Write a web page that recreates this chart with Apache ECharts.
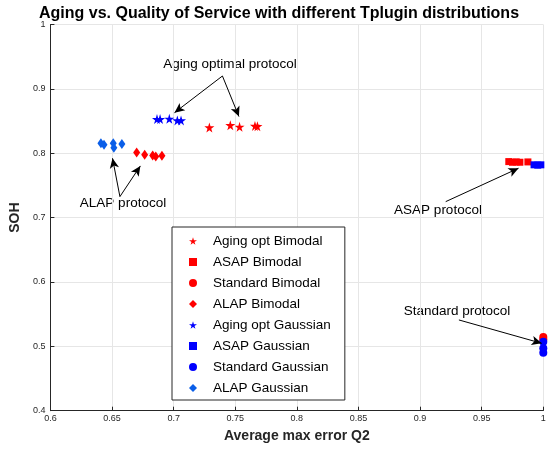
<!DOCTYPE html>
<html>
<head>
<meta charset="utf-8">
<script src="https://cdn.jsdelivr.net/npm/echarts@6/dist/echarts.min.js"></script>
<style>
  html, body { margin: 0; padding: 0; background: #fff; }
  #chart { width: 553px; height: 449px; }
</style>
</head>
<body>
<div id="chart"></div>
<script>
// [avg max error Q2, SOH]
const agingOptBimodal = [[0.729, 0.840], [0.746, 0.8435], [0.7535, 0.841], [0.766, 0.8425], [0.768, 0.842]];
const asapBimodal = [[0.972, 0.787], [0.975, 0.786], [0.978, 0.7865], [0.981, 0.786], [0.9875, 0.7865]];
const standardBimodal = [[1.0, 0.5145], [1.0, 0.511]];
const alapBimodal = [[0.670, 0.801], [0.6765, 0.7975], [0.683, 0.7965], [0.6855, 0.795], [0.6905, 0.796]];
const agingOptGaussian = [[0.6865, 0.853], [0.689, 0.853], [0.6965, 0.8535], [0.703, 0.851], [0.706, 0.851]];
const asapGaussian = [[0.9925, 0.782], [0.9955, 0.7815], [0.998, 0.782]];
const standardGaussian = [[1.0, 0.507], [1.0, 0.497], [1.0, 0.490]];
const alapGaussian = [[0.641, 0.8155], [0.6435, 0.813], [0.651, 0.8155], [0.6515, 0.8085], [0.658, 0.8145]];

// annotation arrows: [from, to] in data coords
const arrows = [
  [[0.7396, 0.920], [0.7007, 0.863]],
  [[0.7396, 0.920], [0.753, 0.857]],
  [[0.6564, 0.7326], [0.6504, 0.7922]],
  [[0.6564, 0.7326], [0.673, 0.7803]],
  [[0.9208, 0.7248], [0.9799, 0.7767]],
  [[0.9315, 0.541], [0.9987, 0.5047]]
];

const STAR = "path://M50,0 L61,35 L98,35 L68,57 L79,91 L50,70 L21,91 L32,57 L2,35 L39,35 Z";
const RED = "#ff0000";
const BLUE = "#0000ff";
const LBLUE = "#0a5ee8";

const chart = echarts.init(document.getElementById("chart"));

const mk = (name, data, symbol, size, color) => ({
  name: name,
  type: "scatter",
  data: data,
  symbol: symbol,
  symbolSize: size,
  clip: false,
  itemStyle: { color: color, opacity: 1 },
  z: 3
});

const legendNames = [
  ["Aging opt Bimodal", STAR],
  ["ASAP Bimodal", "rect"],
  ["Standard Bimodal", "circle"],
  ["ALAP Bimodal", "diamond"],
  ["Aging opt Gaussian", STAR],
  ["ASAP Gaussian", "rect"],
  ["Standard Gaussian", "circle"],
  ["ALAP Gaussian", "diamond"]
];

const option = {
  animation: false,
  backgroundColor: "#fff",
  title: {
    text: "Aging vs. Quality of Service with different Tplugin distributions",
    left: 34,
    top: 1,
    textStyle: { fontFamily: "Liberation Sans", fontSize: 16, fontWeight: "bold", color: "#000" }
  },
  grid: { left: 46.7, right: 9.7, top: 24.5, bottom: 38.3 },
  legend: {
    orient: "vertical",
    left: 172,
    top: 227,
    width: 175,
    padding: [7, 14, 5, 17],
    itemWidth: 8,
    itemHeight: 8,
    itemGap: 7,
    borderColor: "#262626",
    borderWidth: 1,
    backgroundColor: "#fff",
    selectedMode: false,
    data: legendNames.map(n => ({ name: n[0], icon: n[1] })),
    textStyle: { fontFamily: "Liberation Sans", fontSize: 13.5, color: "#000", lineHeight: 14, padding: [0, 0, 0, 11] }
  },
  xAxis: {
    type: "value",
    min: 0.6,
    max: 1,
    interval: 0.05,
    name: "Average max error Q2",
    nameLocation: "middle",
    nameGap: 18,
    nameTextStyle: { fontFamily: "Liberation Sans", fontSize: 14, fontWeight: "bold", color: "#262626" },
    axisLine: { show: true, onZero: false, lineStyle: { color: "#262626", width: 1 } },
    axisTick: { show: true, inside: true, length: 4, lineStyle: { color: "#262626" } },
    axisLabel: { fontFamily: "Liberation Sans", fontSize: 9, color: "#262626", margin: 3 },
    splitLine: { show: true, lineStyle: { color: "#e6e6e6", width: 1 } }
  },
  yAxis: {
    type: "value",
    min: 0.4,
    max: 1,
    interval: 0.1,
    name: "SOH",
    nameLocation: "middle",
    nameGap: 22,
    nameTextStyle: { fontFamily: "Liberation Sans", fontSize: 14, fontWeight: "bold", color: "#262626" },
    axisLine: { show: true, onZero: false, lineStyle: { color: "#262626", width: 1 } },
    axisTick: { show: true, inside: true, length: 4, lineStyle: { color: "#262626" } },
    axisLabel: { fontFamily: "Liberation Sans", fontSize: 9, color: "#262626", margin: 5 },
    splitLine: { show: true, lineStyle: { color: "#e6e6e6", width: 1 } }
  },
  graphic: [
    { type: "text", x: 230, y: 64, style: { text: "Aging optimal protocol", font: "13.5px 'Liberation Sans'", fill: "#000", textAlign: "center", textVerticalAlign: "middle" } },
    { type: "text", x: 123, y: 203, style: { text: "ALAP protocol", font: "13.5px 'Liberation Sans'", fill: "#000", textAlign: "center", textVerticalAlign: "middle" } },
    { type: "text", x: 438, y: 210, style: { text: "ASAP protocol", font: "13.5px 'Liberation Sans'", fill: "#000", textAlign: "center", textVerticalAlign: "middle" } },
    { type: "text", x: 457, y: 311, style: { text: "Standard protocol", font: "13.5px 'Liberation Sans'", fill: "#000", textAlign: "center", textVerticalAlign: "middle" } }
  ],
  series: [
    mk("Aging opt Bimodal", agingOptBimodal, STAR, 10, RED),
    mk("ASAP Bimodal", asapBimodal, "rect", 7, RED),
    mk("Standard Bimodal", standardBimodal, "circle", 8, RED),
    mk("ALAP Bimodal", alapBimodal, "diamond", [7, 10], RED),
    mk("Aging opt Gaussian", agingOptGaussian, STAR, 10, BLUE),
    mk("ASAP Gaussian", asapGaussian, "rect", 7, BLUE),
    mk("Standard Gaussian", standardGaussian, "circle", 8, BLUE),
    mk("ALAP Gaussian", alapGaussian, "diamond", [7, 10], LBLUE),
    {
      name: "arrows",
      type: "line",
      data: [],
      silent: true,
      markLine: {
        silent: true,
        symbol: ["none", "arrow"],
        symbolSize: [7, 10],
        label: { show: false },
        lineStyle: { color: "#000", width: 1, type: "solid" },
        emphasis: { disabled: true },
        data: arrows.map(a => [{ coord: a[0] }, { coord: a[1] }])
      }
    }
  ]
};

chart.setOption(option);
</script>
</body>
</html>
